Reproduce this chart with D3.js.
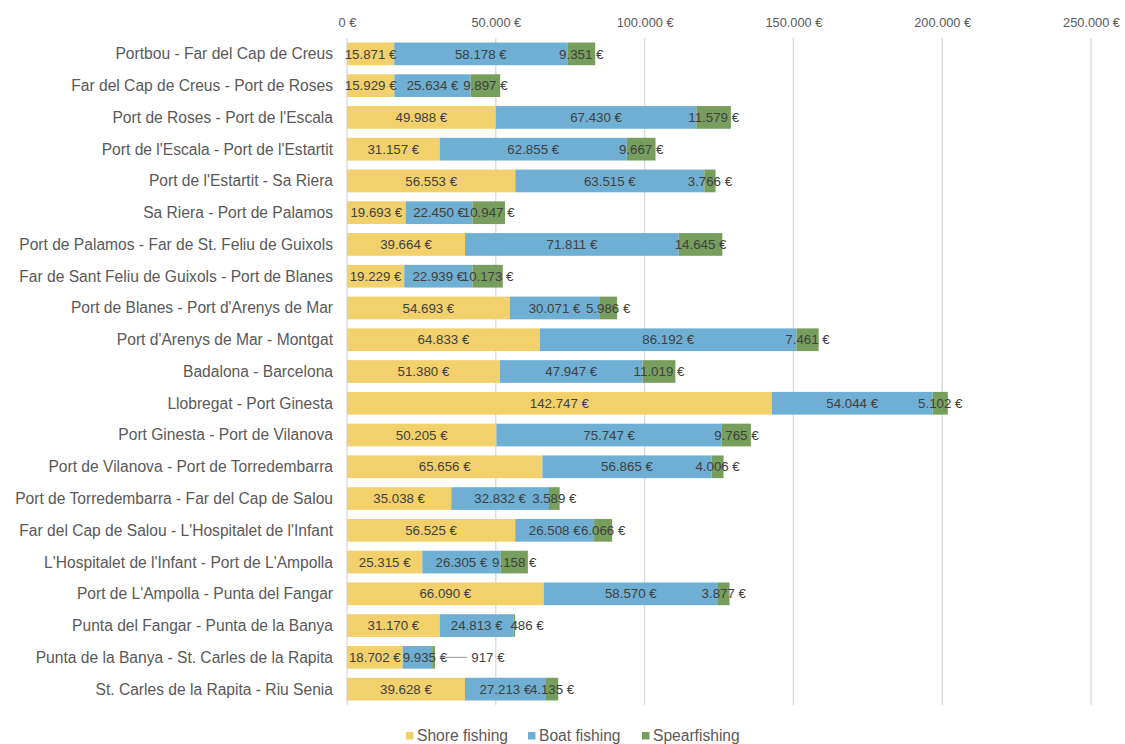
<!DOCTYPE html>
<html><head><meta charset="utf-8">
<script src="https://cdn.jsdelivr.net/npm/d3@7"></script>
<style>body{margin:0;background:#fff;font-family:"Liberation Sans",Arial,sans-serif;}</style>
</head><body><svg id="c" width="1125" height="744"></svg>
<script>
const categories = ["Portbou - Far del Cap de Creus","Far del Cap de Creus - Port de Roses","Port de Roses - Port de l'Escala","Port de l'Escala - Port de l'Estartit","Port de l'Estartit - Sa Riera","Sa Riera - Port de Palamos","Port de Palamos - Far de St. Feliu de Guixols","Far de Sant Feliu de Guixols - Port de Blanes","Port de Blanes - Port d'Arenys de Mar","Port d'Arenys de Mar - Montgat","Badalona - Barcelona","Llobregat - Port Ginesta","Port Ginesta - Port de Vilanova","Port de Vilanova - Port de Torredembarra","Port de Torredembarra - Far del Cap de Salou","Far del Cap de Salou - L'Hospitalet de l'Infant","L'Hospitalet de l'Infant - Port de L'Ampolla","Port de L'Ampolla - Punta del Fangar","Punta del Fangar - Punta de la Banya","Punta de la Banya - St. Carles de la Rapita","St. Carles de la Rapita - Riu Senia"];
const shore = [15871,15929,49988,31157,56553,19693,39664,19229,54693,64833,51380,142747,50205,65656,35038,56525,25315,66090,31170,18702,39628];
const boat = [58178,25634,67430,62855,63515,22450,71811,22939,30071,86192,47947,54044,75747,56865,32832,26508,26305,58570,24813,9935,27213];
const spear = [9351,9897,11579,9667,3766,10947,14645,10173,5986,7461,11019,5102,9765,4006,3589,6066,9158,3877,486,917,4135];
const seriesNames = ["Shore fishing","Boat fishing","Spearfishing"];
const colors = ["#F2D06B","#6FAFD3","#779E5C"];
const tickValues = [0,50000,100000,150000,200000,250000];

const svg = d3.select("#c");
const x = d3.scaleLinear().domain([0,250000]).range([347,1091]);
const y = d3.scaleBand().domain(categories).range([38,705]).paddingInner(0.285).paddingOuter(0.1425);
const fmt = v => d3.format(",")(v).replace(/,/g,".") + " €";

// gridlines
svg.append("g").selectAll("line").data(tickValues).join("line")
  .attr("x1",d=>x(d)).attr("x2",d=>x(d)).attr("y1",38).attr("y2",705)
  .attr("stroke","#d9d9d9").attr("stroke-width",1.3);

// top axis
const ax = svg.append("g").attr("transform","translate(0,38)")
  .call(d3.axisTop(x).tickValues(tickValues).tickSize(0).tickPadding(11).tickFormat(d=>fmt(d)));
ax.select(".domain").remove();
ax.selectAll("text").attr("fill","#595959").style("font-size","12.8px")
  .style("font-family","'Liberation Sans Narrow','Liberation Sans',Arial,sans-serif");

// category labels
svg.append("g").selectAll("text").data(categories).join("text")
  .attr("x",333).attr("y",d=>y(d)+y.bandwidth()/2).attr("dy","0.35em")
  .attr("text-anchor","end").attr("fill","#595959").style("font-size","15.6px").text(d=>d);

const data = categories.map((c,i)=>({cat:c, vals:[shore[i],boat[i],spear[i]]}));
const stack = d3.stack().keys([0,1,2]).value((d,k)=>d.vals[k])(data);

const g = svg.append("g");
stack.forEach((layer,k)=>{
  g.append("g").selectAll("rect").data(layer).join("rect")
    .attr("x",d=>x(d[0])).attr("width",d=>x(d[1])-x(d[0]))
    .attr("y",d=>y(d.data.cat)).attr("height",y.bandwidth())
    .attr("fill",colors[k]);
});
const lab = svg.append("g");
const prevEnd = {};
stack.forEach((layer,k)=>{
  layer.forEach((d,i)=>{
    const v = d[1]-d[0];
    const cy = y(d.data.cat)+y.bandwidth()/2;
    let cx = (x(d[0])+x(d[1]))/2;
    const t = lab.append("text").attr("y",cy).attr("dy","0.35em")
      .attr("text-anchor","middle").attr("fill","#404040").style("font-size","13.3px").text(fmt(v));
    const w = t.node().getComputedTextLength();
    if (k===2 && v<600) cx = x(d[1])+12;
    else if (k===2 && v<1000) {
      cx = x(d[1])+53;
      lab.append("line").attr("x1",x(d[1])+5).attr("x2",x(d[1])+32)
        .attr("y1",cy).attr("y2",cy).attr("stroke","#a6a6a6").attr("stroke-width",1.2);
    } else if (k===1 && w > x(d[1])-x(d[0]) && prevEnd[i] !== undefined && cx - w/2 < prevEnd[i] + 2) {
      cx = prevEnd[i] + 2 + w/2;
    }
    t.attr("x",cx);
    prevEnd[i] = cx + w/2;
  });
});

// legend
const leg = svg.append("g");
const legX = [406,528,642];
seriesNames.forEach((n,k)=>{
  leg.append("rect").attr("x",legX[k]).attr("y",732).attr("width",7.5).attr("height",7.5).attr("fill",colors[k]);
  leg.append("text").attr("x",legX[k]+11).attr("y",736).attr("dy","0.35em")
    .attr("fill","#595959").style("font-size","15.6px").text(n);
});
</script></body></html>
